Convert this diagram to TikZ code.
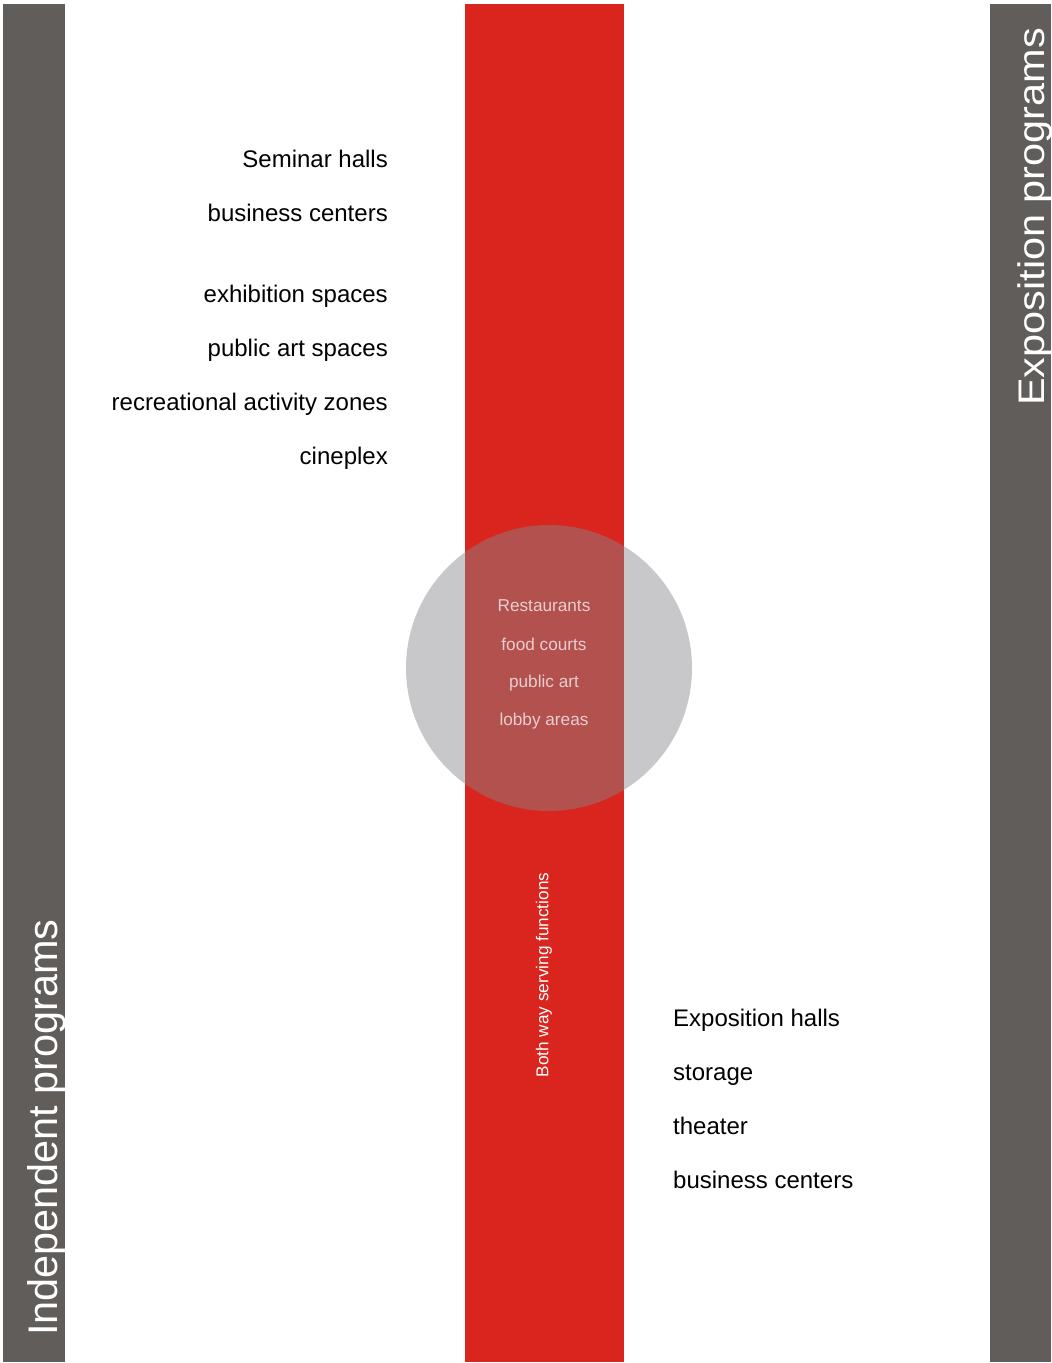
\documentclass[tikz,border=0pt]{standalone}
\usepackage{fontspec}
\setmainfont{Liberation Sans}
\definecolor{bargrey}{RGB}{96,93,91}
\definecolor{spinered}{RGB}{217,37,29}
\definecolor{hubgrey}{RGB}{135,135,140}
\definecolor{hubtext}{RGB}{232,206,206}
\tikzset{
    item/.style={font=\fontsize{24}{24}\selectfont,inner sep=0pt},
    hubitem/.style={font=\fontsize{17.2}{17.2}\selectfont,text=hubtext,inner sep=0pt},
}
\begin{document}
\begin{tikzpicture}[x=1pt,y=-1pt]
        \useasboundingbox (0,0) rectangle (1052,1363);
        %% side bars
        \fill[bargrey] (3,4) rectangle (65,1362);
        \fill[bargrey] (990,4) rectangle (1051,1362);
        \node[rotate=90,anchor=base west,text=white,font=\fontsize{41.4}{41.4}\selectfont,inner sep=0pt] (indep) at (57,1336) {Independent programs};
        \node[rotate=90,xscale=1.12,anchor=base west,text=white,font=\fontsize{37}{37}\selectfont,inner sep=0pt] (expo) at (1044,406) {Exposition programs};
        %% red spine
        \fill[spinered] (465,4) rectangle (624,1362);
        \node[rotate=90,text=white,font=\fontsize{17.2}{17.2}\selectfont,inner sep=0pt] (both) at (544,975) {Both way serving functions};
        %% shared hub
        \fill[hubgrey,opacity=0.46] (549,668) circle (143);
        \node[hubitem] (rest) at (544,606) {Restaurants};
        \node[hubitem] (food) at (544,644) {food courts};
        \node[hubitem] (art) at (544,683) {public art};
        \node[hubitem] (lobby) at (544,721) {lobby areas};
        %% independent list
        \node[item,anchor=base east] (seminar) at (388,167) {Seminar halls};
        \node[item,anchor=base east] (busl) at (388,221) {business centers};
        \node[item,anchor=base east] (exhib) at (388,302) {exhibition spaces};
        \node[item,anchor=base east] (pubart) at (388,356) {public art spaces};
        \node[item,anchor=base east] (recr) at (388,410) {recreational activity zones};
        \node[item,anchor=base east] (cine) at (388,464) {cineplex};
        %% exposition list
        \node[item,anchor=base west] (halls) at (673,1026) {Exposition halls};
        \node[item,anchor=base west] (stor) at (673,1080) {storage};
        \node[item,anchor=base west] (theat) at (673,1134) {theater};
        \node[item,anchor=base west] (busr) at (673,1188) {business centers};
    \end{tikzpicture}
\end{document}
